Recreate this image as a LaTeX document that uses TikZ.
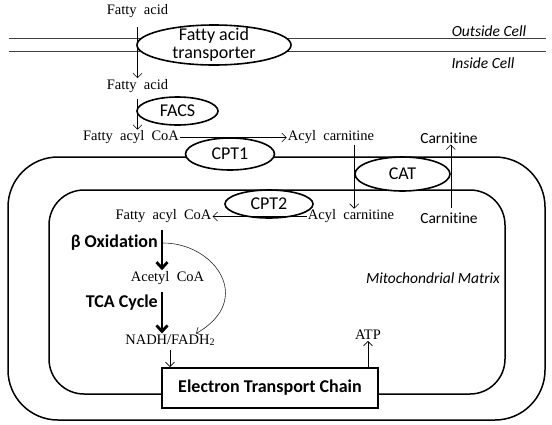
\documentclass[tikz,border=0pt]{standalone}
\usepackage{fontspec}
\setmainfont{Liberation Serif}[WordSpace=2]
\newfontfamily\calib{Carlito}[Ligatures=NoCommon]
\usetikzlibrary{arrows.meta,shapes.geometric}

\begin{document}
\begin{tikzpicture}[x=1pt,y=-1pt,>={Straight Barb[length=4.5pt,width=9pt]},
    chem node/.style={font=\fontsize{14.5}{18}\selectfont,inner sep=1pt},
    sans node/.style={font=\calib\fontsize{15.5}{18}\selectfont,inner sep=1pt},
    side node/.style={font=\calib\itshape\fontsize{15.5}{18}\selectfont,inner sep=0pt},
    enzyme node/.style={ellipse,draw,line width=1.6pt,fill=white,inner sep=-30pt,
                        font=\calib\fontsize{18}{18}\selectfont},
    path label/.style={font=\calib\bfseries\fontsize{18}{20}\selectfont,inner sep=0pt,anchor=east},
    thin arrow/.style={->,line width=0.6pt},
    big arrow/.style={-{Straight Barb[length=6pt,width=11pt]},line width=2.8pt}]
  \useasboundingbox (0,0) rectangle (552,424);

  % membrane and mitochondrion
  \draw[line width=0.8pt,black!75] (9,38.3) -- (546,38.3) (9,51.7) -- (546,51.7);
  \draw[line width=1.5pt,rounded corners=50pt] (8,157) rectangle (545,420);
  \draw[line width=1.5pt,rounded corners=35pt] (49,190) rectangle (505,394);

  % enzymes
  \node[enzyme node,minimum width=154pt,minimum height=40pt,align=center] (fat) at (214,45) {Fatty acid\\transporter};
  \node[enzyme node,minimum width=81pt,minimum height=28pt] (facs) at (177.5,111) {FACS};
  \node[enzyme node,minimum width=89pt,minimum height=32pt] (cpt1) at (230,154) {CPT1};
  \node[enzyme node,minimum width=95pt,minimum height=34pt] (cat) at (402.5,174) {CAT};
  \node[enzyme node,minimum width=88pt,minimum height=28pt] (cpt2) at (269,204) {CPT2};
  \node[draw,line width=2pt,fill=white,minimum width=216pt,minimum height=40pt,
        font=\calib\bfseries\fontsize{18}{20}\selectfont] (etc) at (270,388) {Electron Transport Chain};

  % metabolites
  \node[chem node] (fa1) at (137.5,11) {Fatty acid};
  \node[chem node] (fa2) at (137.5,86) {Fatty acid};
  \node[chem node] (facoa1) at (131,137.5) {Fatty acyl CoA};
  \node[chem node] (acar1) at (331,137.5) {Acyl carnitine};
  \node[sans node] (car1) at (449,138) {Carnitine};
  \node[chem node] (facoa2) at (163.5,216.5) {Fatty acyl CoA};
  \node[chem node] (acar2) at (351,216.5) {Acyl carnitine};
  \node[sans node] (car2) at (449,218) {Carnitine};
  \node[chem node] (acoa) at (167.5,278) {Acetyl CoA};
  \node[chem node] (nadh) at (170,340) {NADH/FADH\raisebox{-1pt}{\fontsize{10}{10}\selectfont 2}};
  \node[chem node] (atp) at (368,335) {ATP};

  % labels
  \node[path label] (beta) at (158,243) {β Oxidation};
  \node[path label] (tca) at (158,303) {TCA Cycle};
  \node[side node] (outside) at (489,31) {Outside Cell};
  \node[side node] (inside) at (483,63) {Inside Cell};
  \node[side node] (matrix) at (433,278) {Mitochondrial Matrix};

  % connectors
  \draw[thin arrow,shorten <=8pt] (fa1) -- (fa2);
  \draw[thin arrow,shorten <=5pt] (fa2.south) -- (fa2.south |- facoa1.north);
  \draw[thin arrow] (facoa1.east) -- (acar1.west);
  \draw[thin arrow] (acar1.south -| cat.west) -- (acar2.north -| cat.west);
  \draw[thin arrow,shorten <=3pt] (car2.north -| cat.east) -- (car1.south -| cat.east);
  \draw[thin arrow] (acar2.west) -- (facoa2.east);
  \draw[big arrow,shorten <=6pt] ([xshift=4pt]facoa2.south -| beta.east) -- ([xshift=4pt]acoa.north -| beta.east);
  \draw[big arrow,shorten <=6pt] ([xshift=4pt]acoa.south -| tca.east) -- ([xshift=4pt]nadh.north -| tca.east);
  \draw[thin arrow,black!85] ([xshift=5pt]beta.east) .. controls (215,243) and (255,300) .. ([xshift=26pt]nadh.north);
  \draw[thin arrow,shorten <=4pt] (nadh.south) -- (nadh.south |- etc.north);
  \draw[thin arrow] (atp.south |- etc.north) -- (atp.south);
\end{tikzpicture}
\end{document}
